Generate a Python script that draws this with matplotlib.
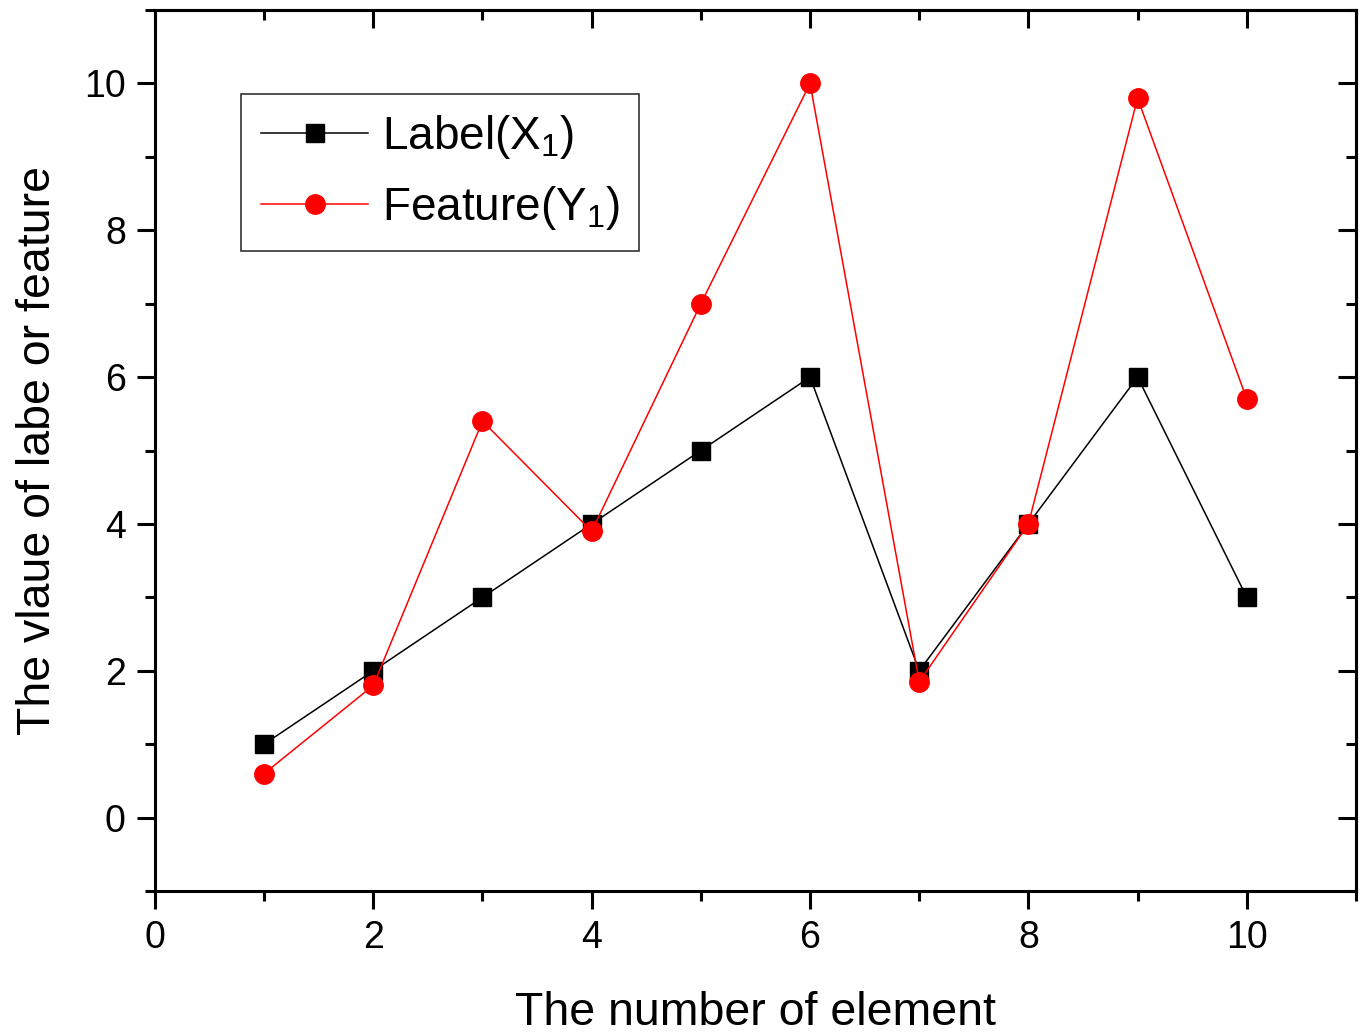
import matplotlib
matplotlib.use("Agg")
import matplotlib.pyplot as plt
from matplotlib.ticker import MultipleLocator

plt.rcParams['font.family'] = ['Liberation Sans', 'DejaVu Sans']
plt.rcParams['mathtext.fontset'] = 'custom'
plt.rcParams['mathtext.rm'] = 'Liberation Sans'

x = [1, 2, 3, 4, 5, 6, 7, 8, 9, 10]
label_x1 = [1, 2, 3, 4, 5, 6, 2, 4, 6, 3]
feature_y1 = [0.6, 1.8, 5.4, 3.9, 7.0, 10.0, 1.85, 4.0, 9.8, 5.7]

fig = plt.figure(figsize=(13.64, 10.34), dpi=100)
ax = fig.add_axes([0.1136, 0.1383, 0.8805, 0.852])

ax.plot(x, label_x1, color='black', lw=1.1, marker='s', ms=13,
        label='Label(X$_{\\mathregular{1}}$)')
ax.plot(x, feature_y1, color='red', lw=1.1, marker='o', ms=14,
        label='Feature(Y$_{\\mathregular{1}}$)')

ax.set_xlim(0, 11)
ax.set_ylim(-1, 11)
ax.xaxis.set_major_locator(MultipleLocator(2))
ax.xaxis.set_minor_locator(MultipleLocator(1))
ax.yaxis.set_major_locator(MultipleLocator(2))
ax.yaxis.set_minor_locator(MultipleLocator(1))

for s in ax.spines.values():
    s.set_linewidth(2.2)

ax.tick_params(which='both', direction='out', width=2.2, labelsize=27,
               top=False, right=False)
ax.tick_params(which='major', length=13, pad=8)
ax.tick_params(which='minor', length=7)

# inward ticks on top and right
axt = ax.secondary_xaxis('top')
axt.xaxis.set_major_locator(MultipleLocator(2))
axt.xaxis.set_minor_locator(MultipleLocator(1))
axt.tick_params(which='both', direction='in', width=2.2, labeltop=False)
axt.tick_params(which='major', length=13)
axt.tick_params(which='minor', length=7)
axt.spines['top'].set_linewidth(2.2)
axr = ax.secondary_yaxis('right')
axr.yaxis.set_major_locator(MultipleLocator(2))
axr.yaxis.set_minor_locator(MultipleLocator(1))
axr.tick_params(which='both', direction='in', width=2.2, labelright=False)
axr.tick_params(which='major', length=13)
axr.tick_params(which='minor', length=7)
axr.spines['right'].set_linewidth(2.2)

ax.set_xlabel('The number of element', fontsize=33.5, labelpad=25)
ax.set_ylabel('The vlaue of labe or feature', fontsize=33.5, labelpad=17)

leg = ax.legend(loc='upper left', bbox_to_anchor=(0.072, 0.905), fontsize=33,
                frameon=True, fancybox=False, edgecolor='black',
                handlelength=2.35, borderpad=0.42, labelspacing=0.5,
                handletextpad=0.3, borderaxespad=0)
leg.get_frame().set_linewidth(1.2)

fig.savefig('out.png', dpi=100)
